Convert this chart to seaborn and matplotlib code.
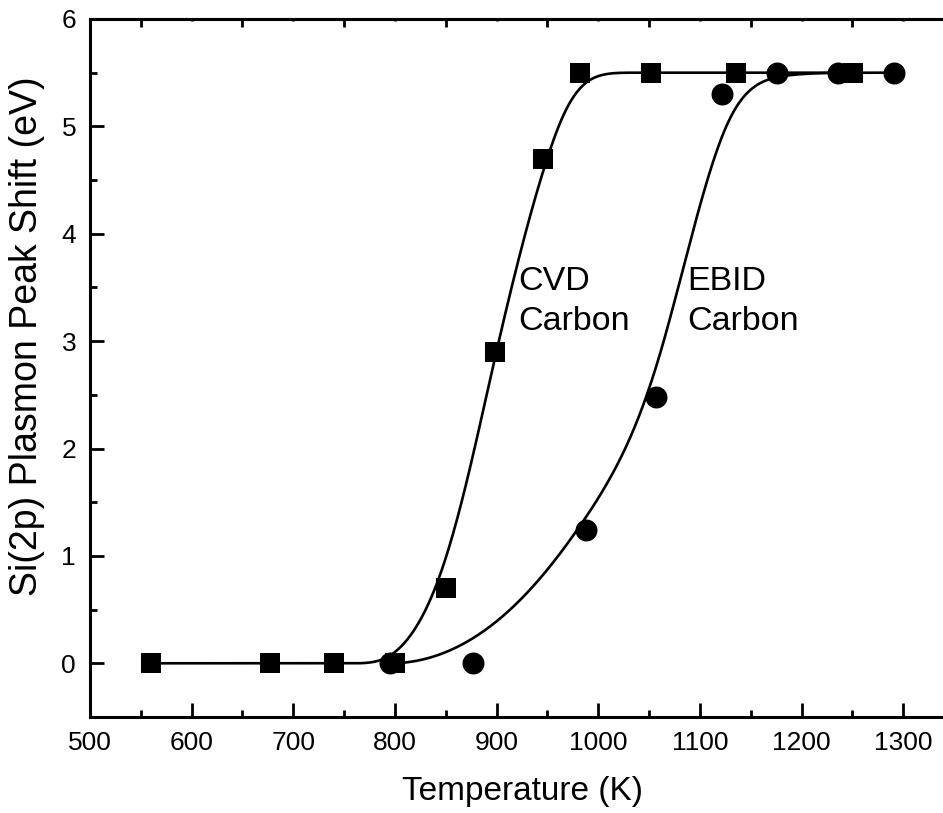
import numpy as np
import pandas as pd
import matplotlib
matplotlib.use("Agg")
import matplotlib.pyplot as plt
from matplotlib.ticker import MultipleLocator, FixedLocator
import seaborn as sns

# Annealing data: Si(2p) plasmon peak shift versus temperature
cvd_temp = [560, 677, 740, 800, 850, 898, 946, 982, 1052, 1136, 1251]
cvd_shift = [0, 0, 0, 0, 0.7, 2.9, 4.7, 5.5, 5.5, 5.5, 5.5]

ebid_temp = [795, 877, 988, 1057, 1122, 1176, 1236, 1291]
ebid_shift = [0, 0, 1.24, 2.48, 5.3, 5.5, 5.5, 5.5]

x_ticks = [500, 600, 700, 800, 900, 1000, 1100, 1200, 1300]
y_ticks = [0, 1, 2, 3, 4, 5, 6]

# relative screen scale (pixels per unit) used for chord-length parameters
X_SCALE, Y_SCALE = 1.016, 107.3


def bspline(xs, ys, degree=3, num=800):
    """Clamped cubic B-spline with the data points as control points,
    knots spaced by chord length of the control polygon."""
    pts = np.column_stack([xs, ys]).astype(float)
    n = len(pts)
    k = min(degree, n - 1)
    seg = np.hypot(np.diff(pts[:, 0]) * X_SCALE, np.diff(pts[:, 1]) * Y_SCALE)
    u = np.concatenate([[0.0], np.cumsum(seg)])
    u /= u[-1]
    inner = [np.mean(u[j:j + k]) for j in range(1, n - k)]
    knots = np.concatenate([np.zeros(k + 1), inner, np.ones(k + 1)])
    t = np.linspace(0, 1, num)
    m = len(knots) - 1
    N = np.zeros((num, m))
    for i in range(m):
        N[:, i] = (knots[i] <= t) & (t < knots[i + 1])
    last = max(i for i in range(m) if knots[i] < knots[i + 1])
    N[t >= knots[-1], last] = 1.0
    for d in range(1, k + 1):
        Nn = np.zeros((num, m - d))
        for i in range(m - d):
            acc = np.zeros(num)
            den = knots[i + d] - knots[i]
            if den > 0:
                acc += (t - knots[i]) / den * N[:, i]
            den = knots[i + d + 1] - knots[i + 1]
            if den > 0:
                acc += (knots[i + d + 1] - t) / den * N[:, i + 1]
            Nn[:, i] = acc
        N = Nn
    curve = N @ pts
    return curve[:, 0], curve[:, 1]


sns.set_style("ticks")
plt.rcParams["font.family"] = ["Liberation Sans", "DejaVu Sans"]
plt.rcParams["text.color"] = "black"
plt.rcParams["axes.labelcolor"] = "black"

points = pd.concat([
    pd.DataFrame({"T": cvd_temp, "shift": cvd_shift, "film": "CVD"}),
    pd.DataFrame({"T": ebid_temp, "shift": ebid_shift, "film": "EBID"}),
], ignore_index=True)

curves = []
for name, tx, sy in [("CVD", cvd_temp, cvd_shift), ("EBID", ebid_temp, ebid_shift)]:
    cx, cy = bspline(tx, sy)
    curves.append(pd.DataFrame({"T": cx, "shift": cy, "film": name}))
curves = pd.concat(curves, ignore_index=True)

fig = plt.figure(figsize=(9.43, 8.13), dpi=100)
ax = fig.add_axes([90 / 943, 96 / 813, 864 / 943, 698 / 813])

sns.lineplot(data=curves, x="T", y="shift", units="film", estimator=None,
             sort=False, color="black", linewidth=1.9, ax=ax, legend=False)
sns.scatterplot(data=points[points.film == "CVD"], x="T", y="shift",
                marker="s", s=210, color="black", linewidth=0, ax=ax,
                legend=False, zorder=3)
sns.scatterplot(data=points[points.film == "EBID"], x="T", y="shift",
                marker="o", s=250, color="black", linewidth=0, ax=ax,
                legend=False, zorder=3)

ax.set_xlim(500, 1350)
ax.set_ylim(-0.5, 6)
ax.xaxis.set_major_locator(FixedLocator(x_ticks))
ax.xaxis.set_minor_locator(MultipleLocator(50))
ax.yaxis.set_major_locator(FixedLocator(y_ticks))
ax.yaxis.set_minor_locator(MultipleLocator(0.5))

for side in ["left", "bottom", "top", "right"]:
    ax.spines[side].set_linewidth(2.2)
    ax.spines[side].set_color("black")

ax.tick_params(which="both", direction="in", width=2.0, colors="black",
               labelcolor="black", labelsize=19, top=False, right=False)
ax.tick_params(which="major", length=10, pad=10)
ax.tick_params(which="minor", length=5)

top = ax.secondary_xaxis("top")
top.xaxis.set_major_locator(FixedLocator(np.arange(550, 1351, 100)))
top.xaxis.set_minor_locator(FixedLocator(np.arange(600, 1351, 100)))
top.tick_params(which="both", direction="in", width=2.0, labeltop=False,
                colors="black")
top.tick_params(which="major", length=5.5)
top.tick_params(which="minor", length=1.2)
top.spines["top"].set_linewidth(2.2)

ax.set_xlabel("Temperature (K)", fontsize=24, labelpad=15)
ax.set_ylabel("Si(2p) Plasmon Peak Shift (eV)", fontsize=27)
ax.yaxis.set_label_coords(-0.052, 0.546)

for x0, name in [(921, "CVD"), (1088, "EBID")]:
    ax.text(x0, 3.476, name, fontsize=24.5, ha="left", va="baseline")
    ax.text(x0, 3.10, "Carbon", fontsize=24.5, ha="left", va="baseline")

fig.savefig("out.png", dpi=100)
